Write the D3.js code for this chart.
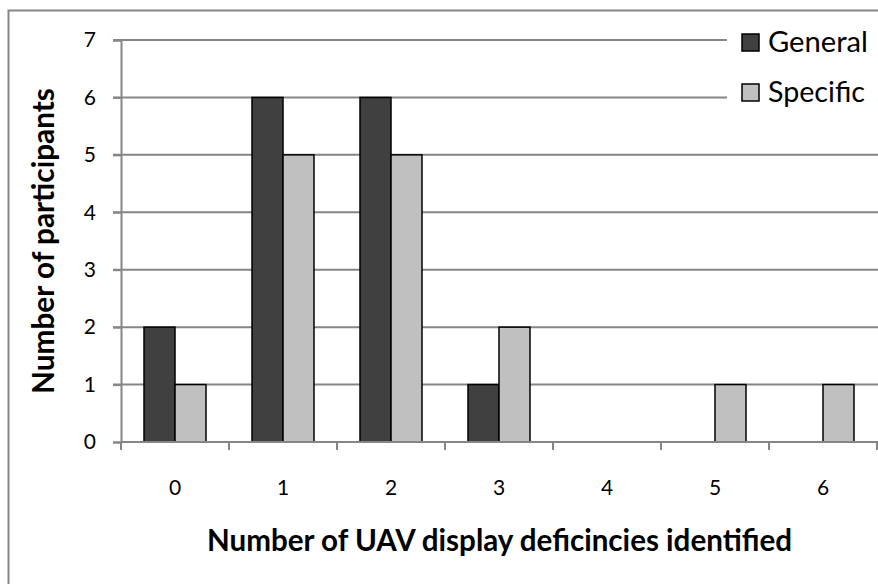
<!DOCTYPE html>
<html>
<head>
<meta charset="utf-8">
<script src="https://cdn.jsdelivr.net/npm/d3@7"></script>
<style>
  html, body { margin: 0; padding: 0; background: #fff; }
  svg { display: block; }
  text { font-family: Lato, "Open Sans", sans-serif; fill: #000; }
</style>
</head>
<body>
<svg id="chart" width="878" height="584"></svg>
<script>
const categories = ["0", "1", "2", "3", "4", "5", "6"];
const seriesNames = ["General", "Specific"];
const generalValues = [2, 6, 6, 1, 0, 0, 0];
const specificValues = [1, 5, 5, 2, 0, 1, 1];
const yTicks = [0, 1, 2, 3, 4, 5, 6, 7];
const colors = ["#404040", "#c0c0c0"];
const xTitle = "Number of UAV display deficincies identified";
const yTitle = "Number of participants";

const svg = d3.select("#chart");
const plot = { left: 121, right: 877, top: 40, bottom: 442 };
const gridColor = "#868686";

function fit(sel, targetWidth) {
  const node = sel.node();
  const fs = parseFloat(sel.attr("font-size"));
  const w = node.getComputedTextLength();
  sel.attr("font-size", (fs * targetWidth / w).toFixed(2));
}

// outer frame
svg.append("rect").attr("x", 8.5).attr("y", 10.5).attr("width", 900).attr("height", 600)
  .attr("fill", "#fff").attr("stroke", gridColor).attr("stroke-width", 2);

const x = d3.scaleBand().domain(categories).range([plot.left, plot.right]).padding(0);
// bars occupy the middle of each band: ~23px margin each side of a 108px band
const inner = d3.scaleBand().domain(seriesNames)
  .range([x.bandwidth() * 0.213, x.bandwidth() * 0.787]).padding(0);
const y = d3.scaleLinear().domain([0, 7]).range([plot.bottom, plot.top]);

// gridlines
svg.append("g").selectAll("line").data(yTicks.filter(d => d > 0)).join("line")
  .attr("x1", plot.left - 8).attr("x2", plot.right + 10)
  .attr("y1", d => y(d)).attr("y2", d => y(d))
  .attr("stroke", gridColor).attr("stroke-width", 2);

// y axis
const yAxis = svg.append("g").attr("transform", `translate(${plot.left},0)`)
  .call(d3.axisLeft(y).tickValues(yTicks).tickSize(8).tickPadding(17).tickFormat(d3.format("d")));
yAxis.select(".domain").attr("stroke", gridColor).attr("stroke-width", 2);
yAxis.selectAll(".tick line").attr("stroke", gridColor).attr("stroke-width", 2);
yAxis.selectAll(".tick text").attr("font-size", 21).attr("font-family", "Lato").attr("fill", "#000");

// bars
const series = [generalValues, specificValues];
const groups = svg.append("g").selectAll("g").data(seriesNames).join("g")
  .attr("fill", (d, i) => colors[i]);
groups.selectAll("rect").data((s, si) => series[si].map((v, ci) => ({ s, v, c: categories[ci] })))
  .join("rect")
  .filter(d => d.v > 0)
  .attr("x", d => x(d.c) + inner(d.s))
  .attr("width", inner.bandwidth())
  .attr("y", d => y(d.v))
  .attr("height", d => y(0) - y(d.v))
  .attr("stroke", "#000").attr("stroke-width", 1.5);

// x axis
const xAxis = svg.append("g").attr("transform", `translate(0,${plot.bottom})`)
  .call(d3.axisBottom(x).tickSize(0).tickPadding(38));
xAxis.select(".domain").remove();
xAxis.selectAll(".tick text").attr("font-size", 21).attr("font-family", "Lato").attr("fill", "#000");
svg.append("line").attr("x1", plot.left).attr("x2", plot.right + 10)
  .attr("y1", plot.bottom).attr("y2", plot.bottom).attr("stroke", gridColor).attr("stroke-width", 2);
svg.append("g").selectAll("line").data(d3.range(categories.length + 1)).join("line")
  .attr("x1", i => plot.left + i * x.bandwidth()).attr("x2", i => plot.left + i * x.bandwidth())
  .attr("y1", plot.bottom).attr("y2", plot.bottom + 8)
  .attr("stroke", gridColor).attr("stroke-width", 2);

// axis titles
const xt = svg.append("text").attr("x", 499.5).attr("y", 551).attr("text-anchor", "middle")
  .attr("font-weight", "bold").attr("font-size", 26).text(xTitle);
fit(xt, 585);
const yt = svg.append("text").attr("transform", "translate(54,241) rotate(-90)").attr("text-anchor", "middle")
  .attr("font-weight", "bold").attr("font-size", 26).text(yTitle);
fit(yt, 306);

// legend
svg.append("rect").attr("x", 727).attr("y", 20).attr("width", 160).attr("height", 108).attr("fill", "#fff");
const leg = svg.append("g").selectAll("g").data(seriesNames).join("g")
  .attr("transform", (d, i) => `translate(742,${34 + i * 50})`);
leg.append("rect").attr("width", 17).attr("height", 17)
  .attr("fill", (d, i) => colors[i]).attr("stroke", "#000").attr("stroke-width", 1.5);
leg.append("text").attr("x", 26).attr("y", 18).attr("font-size", 24).text(d => d)
  .each(function (d, i) { fit(d3.select(this), i === 0 ? 100 : 97); });
</script>
</body>
</html>
